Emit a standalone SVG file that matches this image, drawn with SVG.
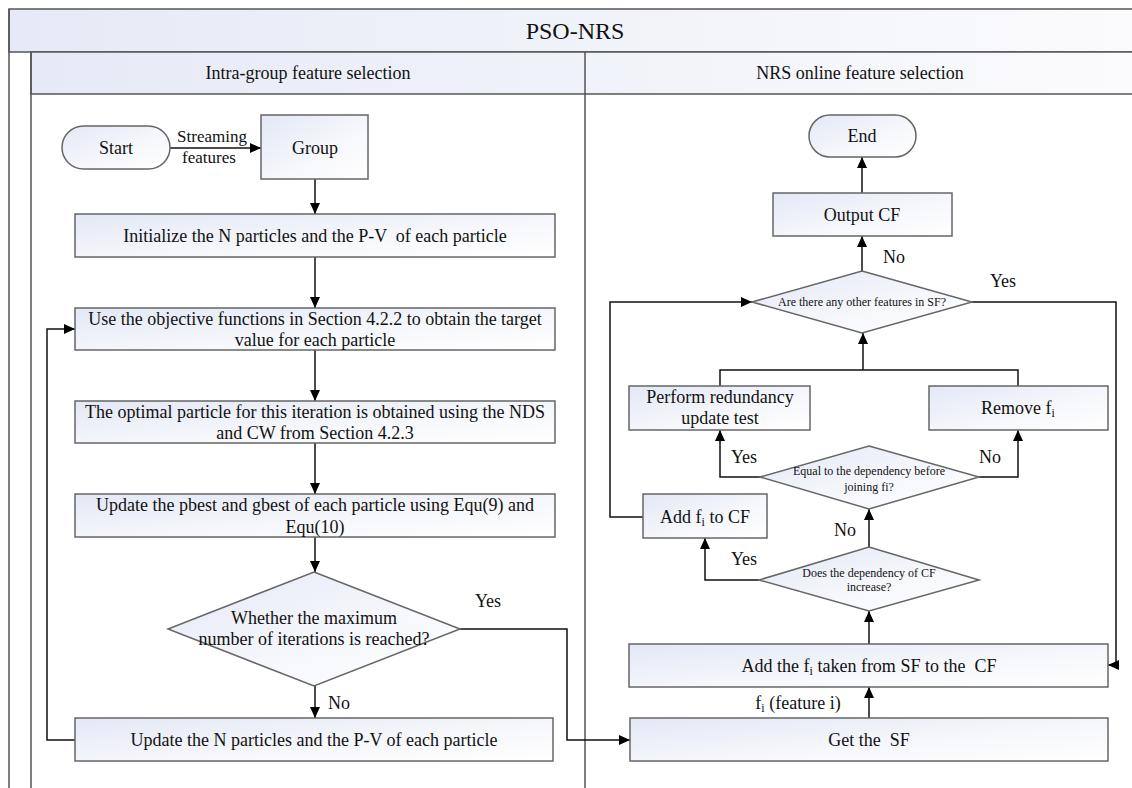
<svg xmlns="http://www.w3.org/2000/svg" width="1132" height="788" viewBox="0 0 1132 788">
<defs>
<linearGradient id="g" x1="0" y1="0" x2="1" y2="1">
<stop offset="0" stop-color="#e3e8f5"/>
<stop offset="0.6" stop-color="#f7f8fc"/>
<stop offset="1" stop-color="#ffffff"/>
</linearGradient>
<linearGradient id="hg" x1="0" y1="0" x2="1" y2="0">
<stop offset="0" stop-color="#e6eaf6"/>
<stop offset="1" stop-color="#fbfbfd"/>
</linearGradient>
<marker id="ah" markerUnits="userSpaceOnUse" markerWidth="11" markerHeight="10" refX="11" refY="5" orient="auto">
<path d="M0,0 L11,5 L0,10 z" fill="#000"/>
</marker>
<style>
text{font-family:"Liberation Serif","Times New Roman",serif;fill:#111;text-anchor:middle}
.t{font-size:18px}
.l{font-size:17px}
.s{font-size:12px}
.h{font-size:18px}
.ti{font-size:24px}
.sub{font-size:12px}
.box{fill:url(#g);stroke:#666;stroke-width:1.5}
.frame{fill:none;stroke:#555;stroke-width:1.5}
.c{fill:none;stroke:#111;stroke-width:1.5}
.ca{fill:none;stroke:#111;stroke-width:1.5;marker-end:url(#ah)}
</style>
</defs>
<rect width="1132" height="788" fill="#fff"/>
<g id="pool">
<rect x="9" y="9" width="1130" height="43" fill="url(#hg)" stroke="#555" stroke-width="1.5"/>
<text class="ti" x="575" y="39">PSO-NRS</text>
<rect x="31" y="52" width="1108" height="42" fill="url(#hg)" stroke="#555" stroke-width="1.5"/>
<line class="frame" x1="9" y1="9" x2="9" y2="790"/>
<line class="frame" x1="31" y1="52" x2="31" y2="790"/>
<line class="frame" x1="585" y1="52" x2="585" y2="790"/>
<text class="h" x="308" y="79">Intra-group feature selection</text>
<text class="h" x="860" y="79">NRS online feature selection</text>
</g>
<g id="connectors">
<path class="ca" d="M170,148 H261"/>
<path class="ca" d="M315,179 V214"/>
<path class="ca" d="M315,257 V308"/>
<path class="ca" d="M315,350 V401"/>
<path class="ca" d="M315,443 V494"/>
<path class="ca" d="M315,537 V572"/>
<path class="ca" d="M315,686 V718"/>
<path class="ca" d="M75,740 H47 V329 H75"/>
<path class="ca" d="M460,629 H567 V740 H630"/>
<path class="ca" d="M869,718 V687"/>
<path class="ca" d="M869,644 V611"/>
<path class="ca" d="M759,580 H705 V538"/>
<path class="ca" d="M869,547 V509"/>
<path class="ca" d="M760,477 H720 V430"/>
<path class="ca" d="M979,477 H1018 V430"/>
<path class="c" d="M720,386 V370 H1018 V386"/>
<path class="ca" d="M863,370 V333"/>
<path class="ca" d="M643,517 H610 V302 H752"/>
<path class="ca" d="M862,271 V236"/>
<path class="ca" d="M862,193 V157"/>
<path class="ca" d="M972,302 H1116 V665 H1108"/>
<text class="l" x="212" y="142">Streaming</text>
<text class="l" x="209" y="163">features</text>
<text class="t" x="488" y="607">Yes</text>
<text class="t" x="339" y="709">No</text>
<text class="t" x="894" y="263">No</text>
<text class="t" x="1003" y="287">Yes</text>
<text class="t" x="744" y="463">Yes</text>
<text class="t" x="990" y="463">No</text>
<text class="t" x="845" y="536">No</text>
<text class="t" x="744" y="565">Yes</text>
<text class="t" x="798" y="709">f<tspan class="sub" dy="3">i</tspan><tspan dy="-3"> (feature i)</tspan></text>
</g>
<g id="start">
<rect x="62" y="126" width="108" height="43" rx="21.5" class="box"/>
<text class="t" x="116" y="154">Start</text>
</g>
<g id="group">
<rect x="261" y="115" width="107" height="64" class="box"/>
<text class="t" x="315" y="154">Group</text>
</g>
<g id="init">
<rect x="75" y="214" width="480" height="43" class="box"/>
<text class="t" x="315" y="242" xml:space="preserve">Initialize the N particles and the P-V  of each particle</text>
</g>
<g id="use">
<rect x="75" y="308" width="480" height="42" class="box"/>
<text class="t" x="315" y="325">Use the objective functions in Section 4.2.2 to obtain the target</text>
<text class="t" x="315" y="346">value for each particle</text>
</g>
<g id="optimal">
<rect x="75" y="401" width="480" height="42" class="box"/>
<text class="t" x="315" y="418">The optimal particle for this iteration is obtained using the NDS</text>
<text class="t" x="315" y="439">and CW from Section 4.2.3</text>
</g>
<g id="pbest">
<rect x="75" y="494" width="480" height="43" class="box"/>
<text class="t" x="315" y="511">Update the pbest and gbest of each particle using Equ(9) and</text>
<text class="t" x="315" y="533">Equ(10)</text>
</g>
<g id="maxiter">
<polygon points="314,572 460,629 314,686 168,629" class="box"/>
<text class="t" x="314" y="624">Whether the maximum</text>
<text class="t" x="314" y="645">number of iterations is reached?</text>
</g>
<g id="updateN">
<rect x="75" y="718" width="478" height="43" class="box"/>
<text class="t" x="314" y="746">Update the N particles and the P-V of each particle</text>
</g>
<g id="end">
<rect x="809" y="115" width="107" height="42" rx="21" class="box"/>
<text class="t" x="862" y="142">End</text>
</g>
<g id="output">
<rect x="773" y="193" width="179" height="43" class="box"/>
<text class="t" x="862" y="221">Output CF</text>
</g>
<g id="anyother">
<polygon points="862,271 972,302 862,333 752,302" class="box"/>
<text class="s" x="862" y="306">Are there any other features in SF?</text>
</g>
<g id="perform">
<rect x="629" y="386" width="181" height="44" class="box"/>
<text class="t" x="720" y="403">Perform redundancy</text>
<text class="t" x="720" y="424">update test</text>
</g>
<g id="remove">
<rect x="929" y="386" width="179" height="44" class="box"/>
<text class="t" x="1018" y="414">Remove f<tspan class="sub" dy="3">i</tspan></text>
</g>
<g id="equal">
<polygon points="869,446 979,477 869,509 760,477" class="box"/>
<text class="s" x="869" y="475">Equal to the dependency before</text>
<text class="s" x="869" y="491">joining fi?</text>
</g>
<g id="addcf">
<rect x="643" y="494" width="124" height="44" class="box"/>
<text class="t" x="705" y="523">Add f<tspan class="sub" dy="3">i</tspan><tspan dy="-3"> to CF</tspan></text>
</g>
<g id="increase">
<polygon points="869,547 979,580 869,611 759,580" class="box"/>
<text class="s" x="869" y="577">Does the dependency of CF</text>
<text class="s" x="869" y="591">increase?</text>
</g>
<g id="addfi">
<rect x="629" y="644" width="479" height="43" class="box"/>
<text class="t" x="869" y="672" xml:space="preserve">Add the f<tspan class="sub" dy="3">i</tspan><tspan dy="-3"> taken from SF to the  CF</tspan></text>
</g>
<g id="getsf">
<rect x="630" y="718" width="478" height="43" class="box"/>
<text class="t" x="869" y="746" xml:space="preserve">Get the  SF</text>
</g>
</svg>
